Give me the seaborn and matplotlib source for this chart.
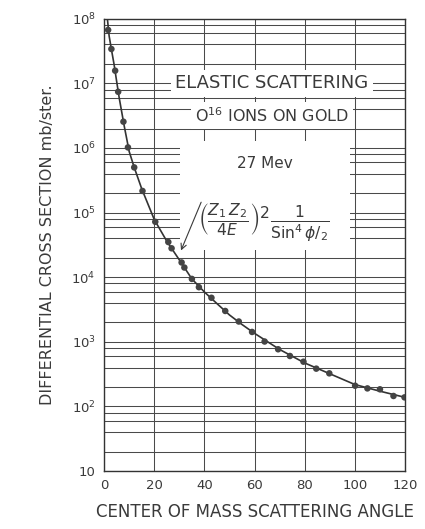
import pandas as pd
import numpy as np
import matplotlib
matplotlib.use("Agg")
import matplotlib.pyplot as plt
import matplotlib.ticker as mticker
from matplotlib.patches import Rectangle
import seaborn as sns

# measured points: CM angle (deg) vs cross section (mb/ster)
angle = [1.6, 2.9, 4.4, 5.6, 7.7, 9.5, 12.0, 15.3, 20.4, 25.6, 26.9, 30.9, 32.0, 35.0, 37.8,
         42.8, 48.3, 53.7, 59.0, 64.0, 69.4, 74.1, 79.5, 84.6, 89.8, 100.1, 105.0, 110.0, 115.4, 119.8]
sigma = [6.7e7, 3.4e7, 1.57e7, 7.4e6, 2.55e6, 1.02e6, 5.0e5, 2.16e5, 7.2e4, 3.5e4, 2.8e4, 1.69e4, 1.41e4, 9.4e3, 7.0e3,
         4.8e3, 3.0e3, 2.06e3, 1.42e3, 1.01e3, 766, 603, 492, 384, 325, 209, 190, 184, 145, 138]

# drawn curve
curve_angle = [1.3, 2, 3, 4, 5, 6, 8, 10, 12, 15, 20, 25, 30, 35, 40, 45, 50, 55, 60, 70, 80, 90, 100, 110, 120]
curve_sigma = [1.0e8, 5.4e7, 3.2e7, 1.93e7, 1.07e7, 6.0e6, 2.2e6, 8.8e5, 5.0e5, 2.33e5, 7.8e4, 3.6e4, 1.85e4,
               9.4e3, 5.9e3, 3.9e3, 2.6e3, 1.85e3, 1.35e3, 760, 470, 320, 218, 172, 138]

xticks = [0, 20, 40, 60, 80, 100, 120]
yticks = [1e1, 1e2, 1e3, 1e4, 1e5, 1e6, 1e7, 1e8]
ytick_labels = ["10", r"$\mathregular{10^{2}}$", r"$\mathregular{10^{3}}$", r"$\mathregular{10^{4}}$",
                r"$\mathregular{10^{5}}$", r"$\mathregular{10^{6}}$", r"$\mathregular{10^{7}}$",
                r"$\mathregular{10^{8}}$"]

pts = pd.DataFrame({'angle': angle, 'sigma': sigma})
crv = pd.DataFrame({'angle': curve_angle, 'sigma': curve_sigma})

sns.set_style("white")
plt.rcParams['font.family'] = ['DejaVu Sans']
ink = '#3a3a3a'

fig = plt.figure(figsize=(4.25, 5.29), dpi=100)
ax = fig.add_axes([0.245, 0.1096, 0.708, 0.855])

ax.set_yscale('log')
ax.set_xlim(0, 120)
ax.set_ylim(10, 1e8)
ax.set_axisbelow(True)

ax.set_xticks(xticks)
ax.set_yticks(yticks)
ax.set_yticklabels(ytick_labels)
ax.yaxis.set_minor_locator(mticker.LogLocator(base=10, subs=(2, 4, 6, 8), numticks=20))
ax.yaxis.set_minor_formatter(mticker.NullFormatter())
ax.tick_params(which='both', length=0, colors=ink, labelsize=9.5, pad=6)
ax.grid(which='both', axis='y', color='#4a4a4a', linewidth=0.75)
ax.grid(which='major', axis='x', color='#4a4a4a', linewidth=0.75)
for s in ax.spines.values():
    s.set_color('#333333')
    s.set_linewidth(1.0)

# white patch where the labels sit over the grid
ax.add_patch(Rectangle((0.252, 0.488), 0.565, 0.241, transform=ax.transAxes,
                       facecolor='white', edgecolor='none', zorder=1))

sns.lineplot(data=crv, x='angle', y='sigma', ax=ax, color='#333333', linewidth=1.2, zorder=2)
sns.scatterplot(data=pts, x='angle', y='sigma', ax=ax, color='#444444', s=22,
                edgecolor='none', zorder=3)

ax.set_xlabel("CENTER OF MASS SCATTERING ANGLE", color=ink, fontsize=12, labelpad=8)
ax.set_ylabel("DIFFERENTIAL CROSS SECTION mb/ster.", color=ink, fontsize=11.5, labelpad=12)

ax.text(0.558, 0.857, "ELASTIC SCATTERING", transform=ax.transAxes, ha='center', va='center',
        fontsize=13, color=ink, zorder=4,
        bbox=dict(facecolor='white', edgecolor='none', pad=3))
ax.text(0.558, 0.786, r"$\mathregular{O^{16}}$ IONS ON GOLD", transform=ax.transAxes, ha='center',
        va='center', fontsize=11.5, color=ink, zorder=4,
        bbox=dict(facecolor='white', edgecolor='none', pad=3))
ax.text(0.535, 0.680, "27 Mev", transform=ax.transAxes, ha='center', va='center',
        fontsize=11, color=ink, zorder=4)
ax.text(0.53, 0.548, r"$\left(\frac{Z_1\,Z_2}{4E}\right)^2\frac{1}{\mathrm{Sin}^4\,\phi/_2}$",
        transform=ax.transAxes, ha='center', va='center', fontsize=16, color=ink, zorder=4)
ax.annotate("", xy=(0.252, 0.482), xytext=(0.326, 0.60), xycoords='axes fraction',
            textcoords='axes fraction',
            arrowprops=dict(arrowstyle='->', color=ink, lw=0.8), zorder=4)

fig.savefig("out.png", dpi=100, facecolor='white')
